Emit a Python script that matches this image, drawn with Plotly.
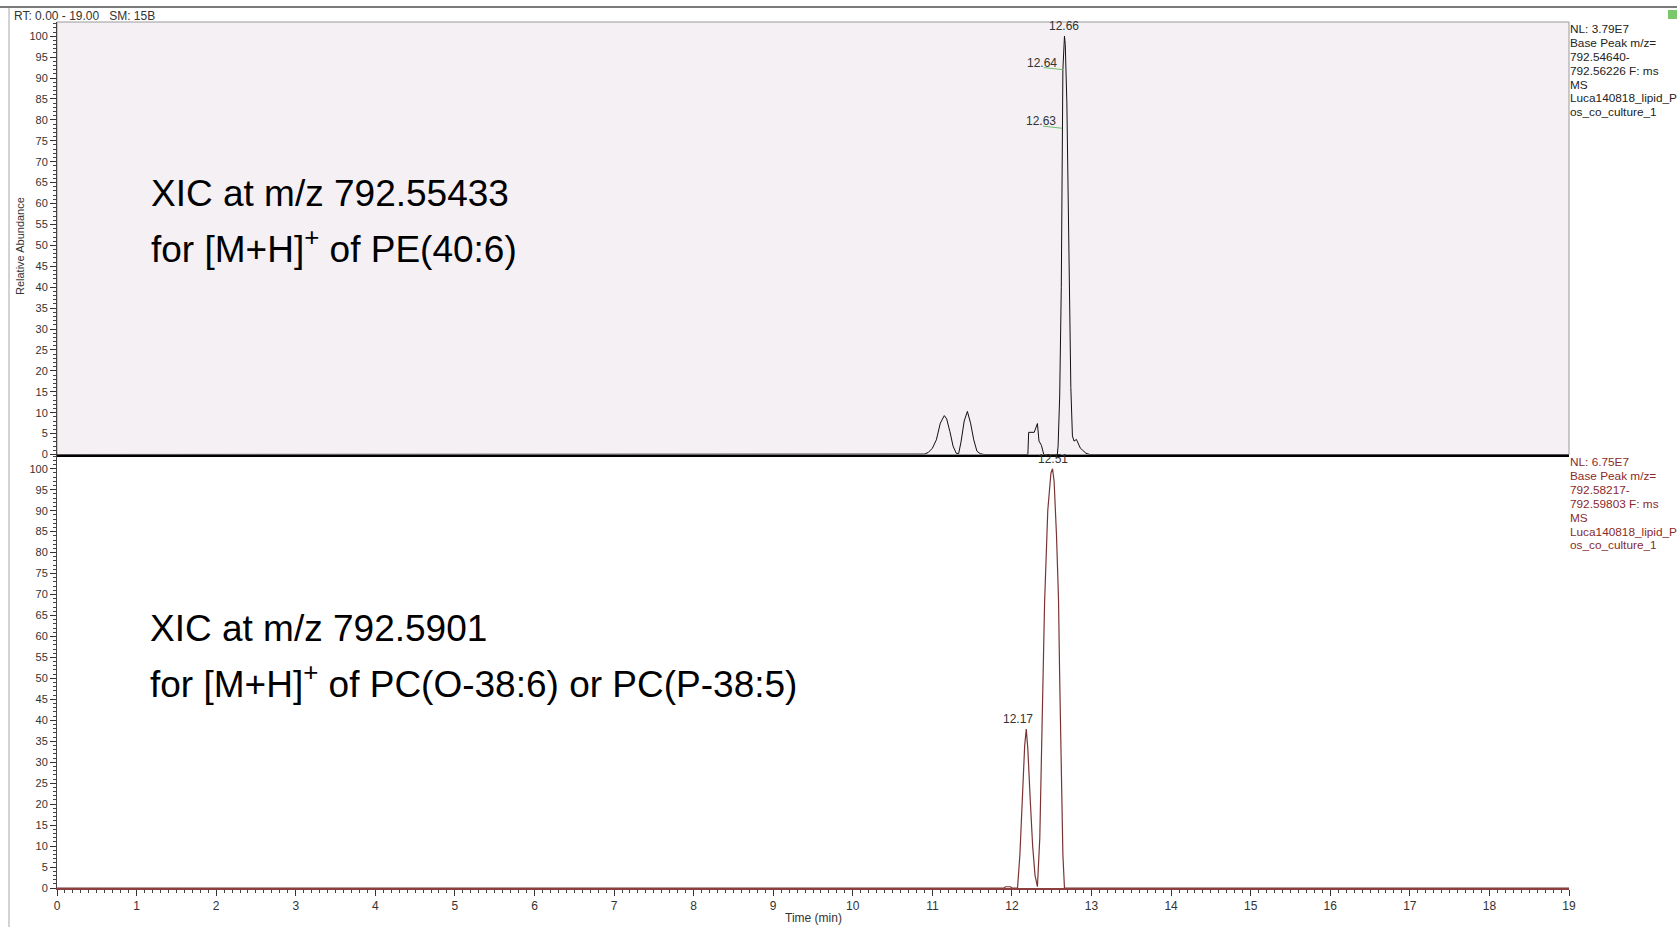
import plotly.graph_objects as go
from plotly.subplots import make_subplots

# ---------------- data ----------------
top_time = [0.0, 10.85, 10.90, 10.95, 11.00, 11.05, 11.10, 11.15, 11.18, 11.22, 11.26, 11.30, 11.33,
            11.36, 11.40, 11.44, 11.48, 11.52, 11.56, 11.60, 11.65, 12.20, 12.21, 12.28, 12.30, 12.32,
            12.34, 12.37, 12.40, 12.57, 12.58, 12.60, 12.62, 12.63, 12.64, 12.66, 12.67, 12.69, 12.72,
            12.74, 12.76, 12.78, 12.81, 12.83, 12.86, 12.89, 12.93, 12.98, 19.0]
top_abund = [0.0, 0.0, 0.1, 0.5, 1.5, 3.5, 7.5, 9.3, 8.5, 5.5, 2.0, 0.3, 0.2,
             3.0, 8.0, 10.3, 7.5, 3.5, 0.8, 0.2, 0.0, 0.0, 5.3, 5.3, 6.5, 7.4,
             3.2, 2.2, 0.0, 0.0, 2.0, 14.0, 40.0, 78.0, 92.0, 100.0, 98.0, 84.0, 48.0,
             16.0, 4.4, 3.2, 3.6, 2.8, 1.5, 1.0, 0.3, 0.0, 0.0]

bot_time = [0.0, 11.90, 11.92, 11.98, 12.00, 12.07, 12.10, 12.13, 12.16, 12.18, 12.20, 12.23, 12.26,
            12.29, 12.32, 12.35, 12.38, 12.41, 12.45, 12.49, 12.51, 12.53, 12.56, 12.585, 12.60,
            12.62, 12.64, 12.66, 19.0]
bot_abund = [0.0, 0.0, 0.3, 0.3, 0.0, 0.0, 8.0, 22.0, 34.0, 37.9, 33.0, 21.0, 10.0,
             3.0, 0.3, 12.0, 40.0, 68.0, 90.0, 99.0, 100.0, 97.0, 84.0, 69.0, 50.0,
             27.0, 8.0, 0.0, 0.0]

top_peak_labels = ["12.66", "12.64", "12.63"]
top_peak_times = [12.66, 12.64, 12.63]
top_peak_heights = [100.0, 92.0, 78.0]
top_peak_leader = [False, True, True]

bot_peak_labels = ["12.51", "12.17"]
bot_peak_times = [12.51, 12.17]
bot_peak_heights = [100.0, 37.9]
bot_peak_leader = [False, False]

top_info = ["NL: 3.79E7", "Base Peak m/z=", "792.54640-", "792.56226 F: ms", "MS",
            "Luca140818_lipid_P", "os_co_culture_1"]
bot_info = ["NL: 6.75E7", "Base Peak m/z=", "792.58217-", "792.59803 F: ms", "MS",
            "Luca140818_lipid_P", "os_co_culture_1"]

top_title = ["XIC at m/z 792.55433", "for [M+H]<sup>+</sup> of PE(40:6)"]
bot_title = ["XIC at m/z 792.5901", "for [M+H]<sup>+</sup> of PC(O-38:6) or PC(P-38:5)"]

x_ticks = list(range(0, 20))
y_ticks = list(range(0, 101, 5))

# ---------------- figure ----------------
W, H = 1677, 927
ML, MR, MT, MB = 57, 108, 22, 39
PW, PH = W - ML - MR, H - MT - MB
FONT = "Liberation Sans, Arial, sans-serif"
TOP_COL = "#111111"
BOT_COL = "#7b3434"
INFO_BOT_COL = "#8a2a2a"

def px_to_paper_x(px):
    return (px - ML) / PW

def px_to_paper_y(py):
    return (H - MB - py) / PH

split = px_to_paper_y(454.5)

fig = make_subplots(rows=2, cols=1, shared_xaxes=True, vertical_spacing=0)

fig.add_trace(go.Scatter(x=top_time, y=top_abund, mode="lines",
                         line=dict(color=TOP_COL, width=1), hoverinfo="skip"), row=1, col=1)
fig.add_trace(go.Scatter(x=bot_time, y=bot_abund, mode="lines",
                         line=dict(color=BOT_COL, width=1.2), hoverinfo="skip"), row=2, col=1)

yrange = [0, 103.4]
common_y = dict(range=yrange, tickmode="array", tickvals=y_ticks, ticks="outside", ticklen=6,
                tickwidth=1, tickcolor="#333", showline=True, linecolor="#444", linewidth=1,
                showgrid=False, zeroline=False,
                tickfont=dict(family=FONT, size=11, color="#333"),
                minor=dict(dtick=1, ticks="outside", ticklen=3, tickcolor="#444", showgrid=False))

fig.update_layout(
    width=W, height=H,
    margin=dict(l=ML, r=MR, t=MT, b=MB),
    paper_bgcolor="white", plot_bgcolor="rgba(0,0,0,0)",
    showlegend=False,
    xaxis=dict(range=[0, 19], showline=True, linecolor="black", linewidth=2, ticks="",
               showticklabels=False, showgrid=False, zeroline=False, domain=[0, 1]),
    xaxis2=dict(range=[0, 19], showline=True, linecolor="#8b4040", linewidth=1.5,
                tickmode="array", tickvals=x_ticks, ticks="outside", ticklen=6, tickcolor="#333",
                showgrid=False, zeroline=False,
                tickfont=dict(family=FONT, size=12, color="#333"),
                minor=dict(dtick=0.1, ticks="outside", ticklen=3, tickcolor="#444", showgrid=False),
                domain=[0, 1]),
    yaxis=dict(domain=[split, 1], **common_y),
    yaxis2=dict(domain=[0, split], **common_y),
)

# top panel background + frame
fig.add_shape(type="rect", xref="x domain", yref="y domain", x0=0, x1=1, y0=0, y1=1,
              fillcolor="#f4f0f4", line=dict(color="#9a9a9a", width=1), layer="below")

# window chrome
fig.add_shape(type="line", xref="paper", yref="paper",
              x0=px_to_paper_x(0), x1=px_to_paper_x(W), y0=px_to_paper_y(7), y1=px_to_paper_y(7),
              line=dict(color="#7a7a7a", width=2))
fig.add_shape(type="line", xref="paper", yref="paper",
              x0=px_to_paper_x(9), x1=px_to_paper_x(9), y0=px_to_paper_y(8), y1=px_to_paper_y(H),
              line=dict(color="#c4c4c4", width=1.5))
fig.add_shape(type="rect", xref="paper", yref="paper",
              x0=px_to_paper_x(1668), x1=px_to_paper_x(1677), y0=px_to_paper_y(10), y1=px_to_paper_y(19),
              fillcolor="#7bc86a", line=dict(width=0))

ann = []
ann.append(dict(text="RT: 0.00 - 19.00   SM: 15B", xref="paper", yref="paper",
                x=px_to_paper_x(12), y=px_to_paper_y(16), xanchor="left", yanchor="middle",
                showarrow=False, font=dict(family=FONT, size=12, color="#333")))

# peak labels
def add_peaks(labels, times, heights, leaders, xr, yr):
    for lab, t, h, ld in zip(labels, times, heights, leaders):
        if ld:
            ann.append(dict(text=lab, xref=xr, yref=yr, x=t, y=h, xanchor="center", yanchor="middle",
                            xshift=-21, yshift=7, showarrow=False,
                            font=dict(family=FONT, size=12, color="#333")))
            fig.add_shape(type="line", xref=xr, yref=yr, x0=t - 0.24, x1=t, y0=h + 0.5, y1=h,
                          line=dict(color="#6fbf6f", width=1))
        else:
            shift = -7 if h < 90 else 0
            ann.append(dict(text=lab, xref=xr, yref=yr, x=t, y=h, xanchor="center", yanchor="bottom",
                            xshift=shift, yshift=1, showarrow=False,
                            font=dict(family=FONT, size=12, color="#333")))

add_peaks(top_peak_labels, top_peak_times, top_peak_heights, top_peak_leader, "x", "y")
add_peaks(bot_peak_labels, bot_peak_times, bot_peak_heights, bot_peak_leader, "x2", "y2")

# info texts at right
for i, line in enumerate(top_info):
    ann.append(dict(text=line, xref="paper", yref="paper", x=px_to_paper_x(1568),
                    y=px_to_paper_y(29 + 13.9 * i), xanchor="left", yanchor="middle",
                    showarrow=False, font=dict(family=FONT, size=11.8, color="#222")))
for i, line in enumerate(bot_info):
    ann.append(dict(text=line, xref="paper", yref="paper", x=px_to_paper_x(1568),
                    y=px_to_paper_y(462 + 13.9 * i), xanchor="left", yanchor="middle",
                    showarrow=False, font=dict(family=FONT, size=11.8, color=INFO_BOT_COL)))

# big titles
for i, line in enumerate(top_title):
    ann.append(dict(text=line, xref="paper", yref="paper", x=px_to_paper_x(149),
                    y=px_to_paper_y(193 + 53 * i), xanchor="left", yanchor="middle",
                    showarrow=False, font=dict(family=FONT, size=37, color="black")))
for i, line in enumerate(bot_title):
    ann.append(dict(text=line, xref="paper", yref="paper", x=px_to_paper_x(148),
                    y=px_to_paper_y(628 + 53 * i), xanchor="left", yanchor="middle",
                    showarrow=False, font=dict(family=FONT, size=37, color="black")))

# axis titles
ann.append(dict(text="Relative Abundance", xref="paper", yref="paper", x=px_to_paper_x(20),
                y=px_to_paper_y(246), xanchor="center", yanchor="middle", textangle=-90,
                showarrow=False, font=dict(family=FONT, size=11, color="#333")))
ann.append(dict(text="Time (min)", xref="paper", yref="paper", x=px_to_paper_x(813),
                y=px_to_paper_y(918), xanchor="center", yanchor="middle",
                showarrow=False, font=dict(family=FONT, size=12, color="#333")))

fig.update_layout(annotations=ann)
fig.write_html("out.html")
